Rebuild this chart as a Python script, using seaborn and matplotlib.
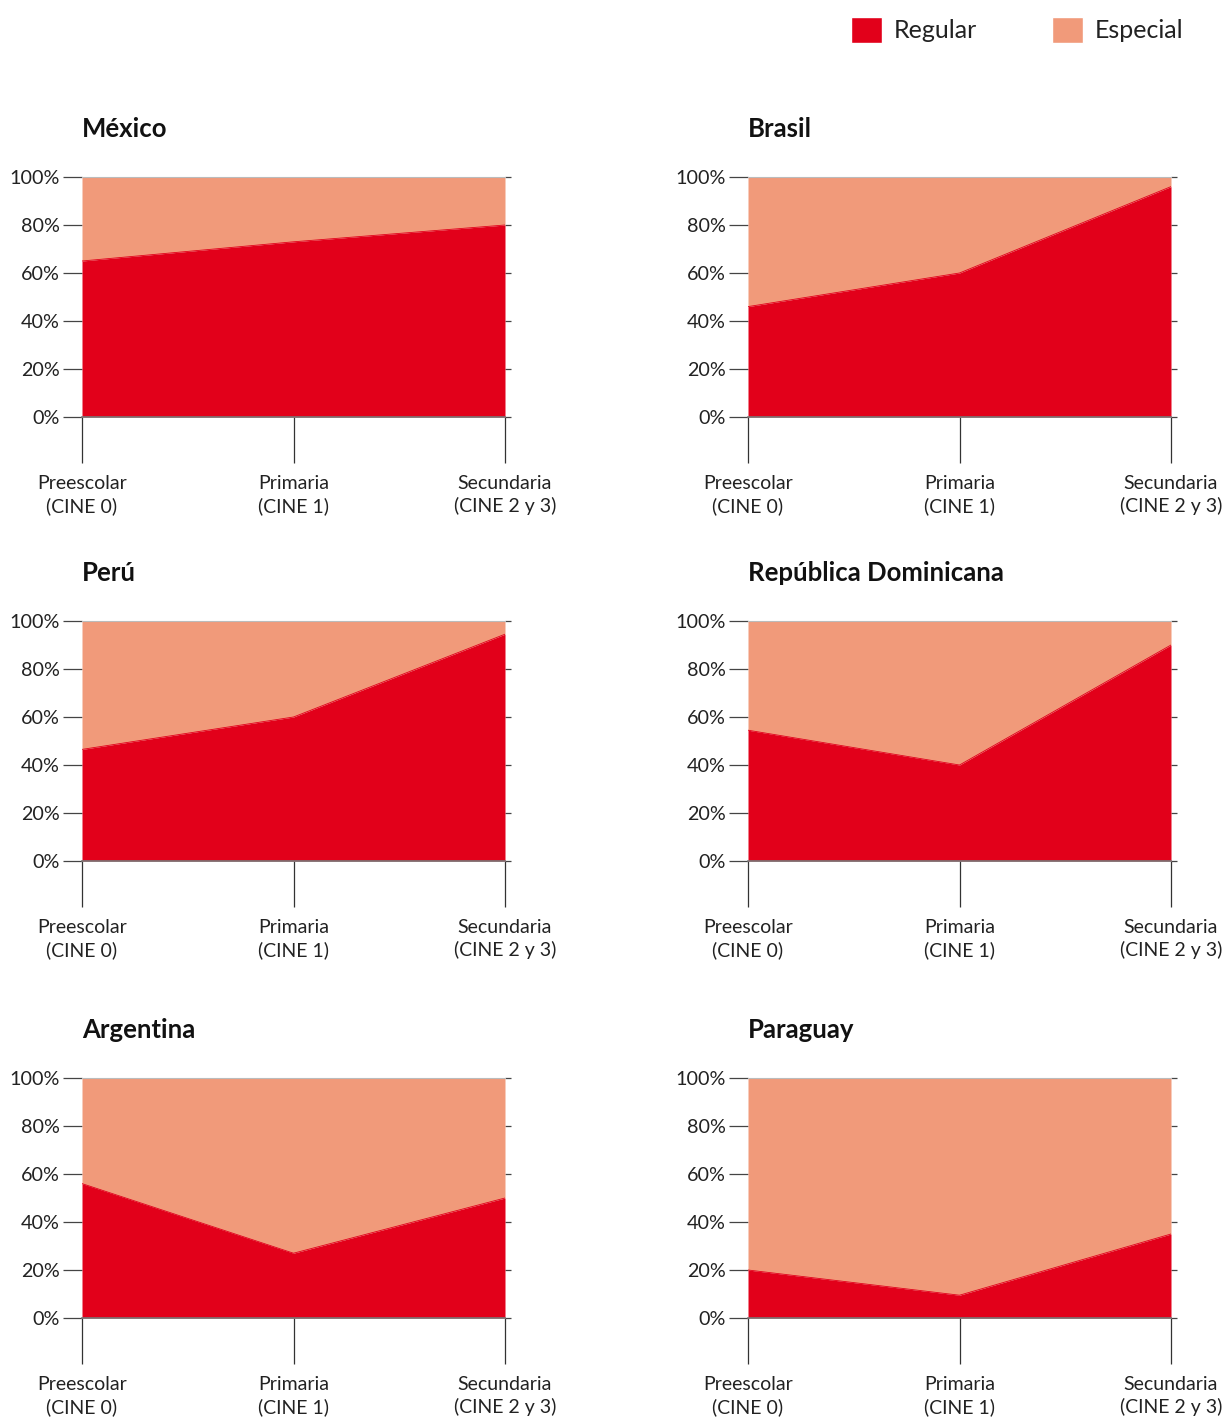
import matplotlib
matplotlib.use("Agg")
import matplotlib.pyplot as plt
import seaborn as sns
import numpy as np
import pandas as pd
from matplotlib.patches import Patch

sns.set_theme(style="white")
plt.rcParams['font.family'] = ['Lato', 'DejaVu Sans']

levels = ["Preescolar\n(CINE 0)", "Primaria\n(CINE 1)", "Secundaria\n(CINE 2 y 3)"]
countries = ["México", "Brasil", "Perú", "República Dominicana", "Argentina", "Paraguay"]
mexico = [65, 73, 80]
brasil = [46, 60, 96]
peru = [46.5, 60, 94.5]
rep_dom = [54.5, 40, 90]
argentina = [56, 27, 50]
paraguay = [20, 9.5, 35]
regular_share = [mexico, brasil, peru, rep_dom, argentina, paraguay]
yticks = [0, 20, 40, 60, 80, 100]
ytick_labels = ["0%", "20%", "40%", "60%", "80%", "100%"]

RED = "#e2001a"
SALMON = "#f19a7a"
TXT = "#222222"

W, H = 1223, 1419
fig = plt.figure(figsize=(W / 100, H / 100), dpi=100)

lefts = [82, 748]
bottoms = [417, 861, 1318]
aw, ah = 423, 240

x = np.arange(len(levels))
for i, (name, vals) in enumerate(zip(countries, regular_share)):
    r, c = divmod(i, 2)
    ax = fig.add_axes([lefts[c] / W, 1 - bottoms[r] / H, aw / W, ah / H])
    df = pd.DataFrame({"x": x, "regular": vals})
    ax.fill_between(df["x"], 0, df["regular"], color=RED, lw=0, zorder=2)
    ax.fill_between(df["x"], df["regular"], 100, color=SALMON, lw=0, zorder=1)
    sns.lineplot(data=df, x="x", y="regular", ax=ax, color=RED, lw=0.6, zorder=3)
    ax.set_xlim(0, 2)
    ax.set_ylim(0, 100)
    ax.set_xlabel("")
    ax.set_ylabel("")
    for s in ["left", "right"]:
        ax.spines[s].set_visible(False)
    ax.spines["top"].set_color("#bbbbbb")
    ax.spines["top"].set_linewidth(0.8)
    ax.spines["bottom"].set_color("#777777")
    ax.spines["bottom"].set_linewidth(1.2)
    ax.spines["bottom"].set_zorder(5)
    ax.set_xticks(x)
    ax.set_xticklabels(levels, fontsize=14, color=TXT, linespacing=1.32)
    ax.tick_params(axis="x", bottom=True, direction="out", length=33, width=0.9,
                   color="#333333", pad=9)
    ax.set_yticks(yticks)
    ax.set_yticklabels(ytick_labels, fontsize=14.2, color=TXT)
    ax.tick_params(axis="y", left=True, right=True, direction="out", length=14,
                   width=0.9, color="#444444", pad=2)
    for t in ax.yaxis.get_major_ticks():
        t.tick2line.set_markersize(4.5)
    ax.set_title(name, loc="left", fontsize=18.5, fontweight="bold", color="#111111",
                 pad=29)

handles = [Patch(facecolor=RED, label="Regular"), Patch(facecolor=SALMON, label="Especial")]
fig.legend(handles=handles, loc="upper left", bbox_to_anchor=(828 / W, 1 + 6 / H),
           ncol=2, frameon=False, fontsize=18, handlelength=1.24, handleheight=1.24,
           handletextpad=0.48, columnspacing=3.0, labelcolor=TXT)

fig.savefig("out.png", dpi=100)
